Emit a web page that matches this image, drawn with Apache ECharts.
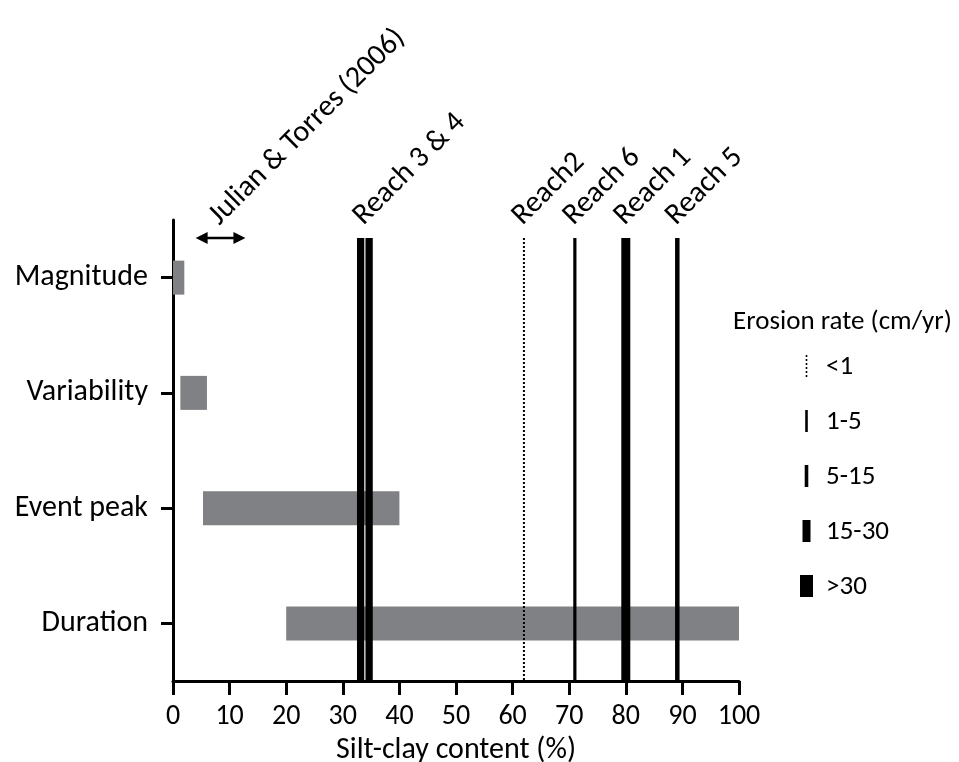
<!DOCTYPE html>
<html>
<head>
<meta charset="utf-8">
<script src="https://cdn.jsdelivr.net/npm/echarts@6/dist/echarts.min.js"></script>
<style>html,body{margin:0;padding:0;background:#fff}#c{width:959px;height:762px}</style>
</head>
<body>
<div id="c"></div>
<script>
// ---- data ----
const categories = ['Magnitude', 'Variability', 'Event peak', 'Duration'];
const rangeStart = [0, 1.3, 5.3, 20];
const rangeEnd = [2, 6, 40, 100];
const reachLineNames = ['Reach 3', 'Reach 4', 'Reach 2', 'Reach 6', 'Reach 1', 'Reach 5'];
const reachLineValues = [33.15, 34.65, 62, 71, 80, 89.1];
const reachLineClass = ['15-30', '15-30', '<1', '1-5', '15-30', '5-15'];
const reachLabels = ['Reach 3 & 4', 'Reach2', 'Reach 6', 'Reach 1', 'Reach 5'];
const reachLabelValues = [33.9, 62, 71, 80, 89.1];
const literatureLabel = 'Julian & Torres (2006)';
const literatureRange = [4, 12.8];
const xTickValues = [0, 10, 20, 30, 40, 50, 60, 70, 80, 90, 100];
const erosionClasses = ['<1', '1-5', '5-15', '15-30', '>30'];
const legendTitle = 'Erosion rate (cm/yr)';
const xAxisTitle = 'Silt-clay content (%)';

// ---- styles ----
const FONT = 'Carlito, Calibri, Lato, sans-serif';
const FS = 30;
const FS_TICK = 28;
const FS_LEG = 27;
const plotLineWidth = { 'Reach 3': 7.3, 'Reach 4': 7.3, 'Reach 2': 2, 'Reach 6': 3.2, 'Reach 1': 9, 'Reach 5': 4.5 };
const legendMarkerWidth = { '<1': 1.6, '1-5': 2.6, '5-15': 3.6, '15-30': 8, '>30': 13 };

const chart = echarts.init(document.getElementById('c'), null, { renderer: 'canvas' });

const legendGraphics = [{
  type: 'text', x: 733, y: 322,
  style: { text: legendTitle, fill: '#000', font: FS_LEG + 'px ' + FONT, align: 'left', verticalAlign: 'middle' }
}];
erosionClasses.forEach((cls, i) => {
  const cy = 366 + i * 55;
  const w = legendMarkerWidth[cls];
  if (cls === '<1') {
    legendGraphics.push({ type: 'line', shape: { x1: 806.5, y1: cy - 11, x2: 806.5, y2: cy + 11 },
      style: { stroke: '#000', lineWidth: w, lineDash: [2, 2] } });
  } else {
    legendGraphics.push({ type: 'rect', shape: { x: 806.5 - w / 2, y: cy - 11, width: w, height: 22 },
      style: { fill: '#000' } });
  }
  legendGraphics.push({ type: 'text', x: 826, y: cy + 1,
    style: { text: cls, fill: '#000', font: FS_LEG + 'px ' + FONT, align: 'left', verticalAlign: 'middle' } });
});

const option = {
  animation: false,
  grid: { left: 173, right: 220, top: 220, bottom: 81, containLabel: false, outerBoundsMode: 'none' },
  xAxis: {
    type: 'value', min: 0, max: 100, interval: 10,
    axisLine: { show: true, lineStyle: { color: '#000', width: 3 } },
    axisTick: { show: true, length: 14, lineStyle: { color: '#000', width: 3 } },
    axisLabel: { color: '#000', fontSize: FS_TICK, fontFamily: FONT, margin: 22,
      formatter: v => xTickValues.indexOf(v) >= 0 ? String(v) : '' },
    splitLine: { show: false },
    name: xAxisTitle, nameLocation: 'middle', nameGap: 47,
    nameTextStyle: { color: '#000', fontSize: FS, fontFamily: FONT }
  },
  yAxis: {
    type: 'category', data: categories, inverse: true,
    axisLine: { show: true, lineStyle: { color: '#000', width: 3 } },
    axisTick: { show: true, alignWithLabel: true, length: 12, lineStyle: { color: '#000', width: 3 } },
    axisLabel: { color: '#000', fontSize: FS, fontFamily: FONT, margin: 25, padding: [4, 0, 0, 0] },
    splitLine: { show: false }
  },
  series: [
    { type: 'bar', stack: 'r', barWidth: 34, silent: true,
      itemStyle: { color: 'transparent' }, data: rangeStart },
    { type: 'bar', stack: 'r', barWidth: 34,
      itemStyle: { color: '#808185' },
      data: rangeEnd.map((e, i) => +(e - rangeStart[i]).toFixed(2)) },
    { type: 'custom', clip: false, z: 5,
      encode: { x: 0, y: 1 },
      data: reachLineValues.map(v => [v, 0]),
      renderItem: (params, api) => {
        const cs = params.coordSys;
        const x = api.coord([api.value(0), 0])[0];
        const name = reachLineNames[params.dataIndex];
        const cls = reachLineClass[params.dataIndex];
        return { type: 'line',
          shape: { x1: x, y1: cs.y + 18, x2: x, y2: cs.y + cs.height },
          style: { stroke: '#000', lineWidth: plotLineWidth[name], lineDash: cls === '<1' ? [2, 2] : null } };
      } },
    { type: 'custom', clip: false, z: 6,
      encode: { x: 0, y: 1 },
      data: reachLabelValues.map(v => [v, 0]).concat([[(literatureRange[0] + literatureRange[1]) / 2, 0]]),
      renderItem: (params, api) => {
        const cs = params.coordSys;
        const x = api.coord([api.value(0), 0])[0];
        const i = params.dataIndex;
        const txt = i < reachLabels.length ? reachLabels[i] : literatureLabel;
        return { type: 'text', x: x + 4, y: cs.y + 11, rotation: Math.PI / 4,
          style: { text: txt, fill: '#000', font: FS + 'px ' + FONT, align: 'left', verticalAlign: 'bottom' } };
      } },
    { type: 'custom', clip: false, z: 6,
      encode: { x: [0, 1] },
      data: [literatureRange.concat([0])],
      renderItem: (params, api) => {
        const cs = params.coordSys;
        const x1 = api.coord([api.value(0), 0])[0];
        const x2 = api.coord([api.value(1), 0])[0];
        const y = cs.y + 18;
        return { type: 'group', children: [
          { type: 'line', shape: { x1: x1 + 6, y1: y, x2: x2 - 6, y2: y }, style: { stroke: '#000', lineWidth: 2.5 } },
          { type: 'polygon', shape: { points: [[x1, y], [x1 + 12, y - 6], [x1 + 12, y + 6]] }, style: { fill: '#000' } },
          { type: 'polygon', shape: { points: [[x2, y], [x2 - 12, y - 6], [x2 - 12, y + 6]] }, style: { fill: '#000' } }
        ] };
      } }
  ],
  graphic: legendGraphics
};
chart.setOption(option);
</script>
</body>
</html>
